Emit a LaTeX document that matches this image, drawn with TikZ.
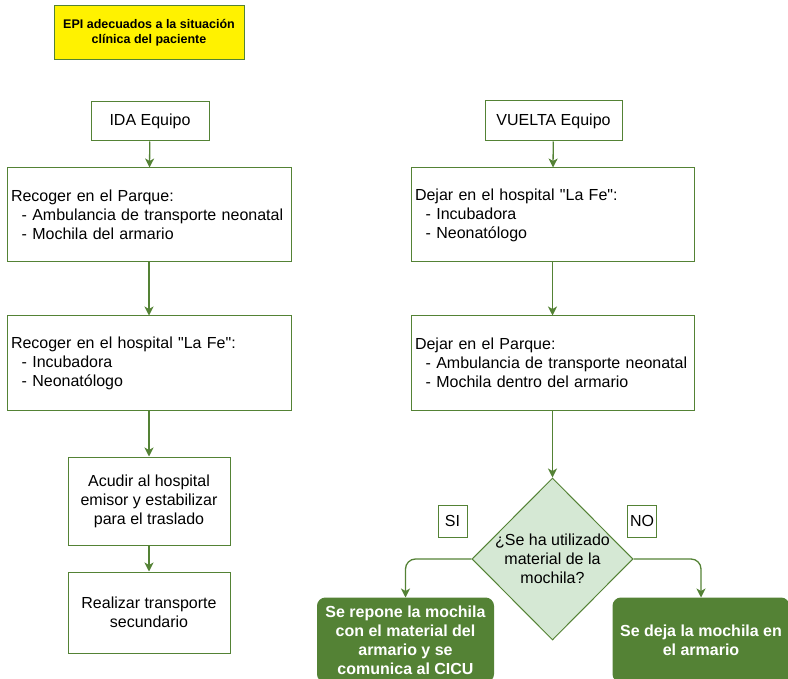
\documentclass[tikz,border=0pt]{standalone}
\usepackage{fontspec}
\setmainfont{Liberation Sans}[Ligatures=TeXOff]
\usetikzlibrary{shapes.geometric,arrows.meta}
\definecolor{leaf}{RGB}{84,130,53}
\definecolor{mint}{RGB}{213,232,212}
\begin{document}
\begin{tikzpicture}[x=1pt,y=-1pt,
  every node/.style={font=\fontsize{16}{19}\selectfont, text=black},
  box/.style={draw=leaf, line width=1pt, fill=white, rectangle, inner sep=4pt},
  listbox/.style={box, align=left, minimum width=284, minimum height=94, text width=276},
  stepbox/.style={box, align=center, minimum width=162},
  tagbox/.style={box, inner sep=2pt, minimum width=29, minimum height=32},
  endbox/.style={draw=leaf, fill=leaf, line width=1pt, rounded corners=8pt,
    minimum width=176, minimum height=84, align=center,
    font=\bfseries\fontsize{16}{19}\selectfont, text=white},
  flow/.style={draw=leaf, line width=1.3pt,
    -{Stealth[length=9pt,width=9pt,inset=2.5pt]}},
]
\useasboundingbox (0,0) rectangle (788,679);
\clip (0,0) rectangle (788,679);

% header note
\node[draw=leaf, line width=1pt, fill=yellow, minimum width=190, minimum height=54,
  align=center, font=\bfseries\fontsize{12.5}{15}\selectfont] (epi) at (149,33)
  {EPI adecuados a la situación\\clínica del paciente};

% outbound column
\node[box, minimum width=118, minimum height=39] (ida) at (150,121.5) {IDA Equipo};
\node[listbox] (parque1) at (149,215)
  {Recoger en el Parque:\\\ \ - Ambulancia de transporte neonatal\\\ \ - Mochila del armario};
\node[listbox] (fe1) at (149,363)
  {Recoger en el hospital "La Fe":\\\ \ - Incubadora\\\ \ - Neonatólogo};
\node[stepbox, minimum height=88] (acudir) at (149,501)
  {Acudir al hospital\\emisor y estabilizar\\para el traslado};
\node[stepbox, minimum height=81] (realizar) at (149,612.5)
  {Realizar transporte\\secundario};

% return column
\node[box, minimum width=137, minimum height=40] (vuelta) at (553.5,121) {VUELTA Equipo};
\node[listbox, minimum width=283, text width=275] (fe2) at (552.5,215)
  {Dejar en el hospital "La Fe":\\\ \ - Incubadora\\\ \ - Neonatólogo};
\node[listbox, minimum width=283, text width=275] (parque2) at (552.5,363)
  {Dejar en el Parque:\\\ \ - Ambulancia de transporte neonatal\\\ \ - Mochila dentro del armario};

% decision
\node[diamond, draw=leaf, line width=1pt, fill=mint, minimum width=161,
  minimum height=162, inner sep=0pt, aspect=1] (dec) at (552.5,559) {};
\node[align=center] (q) at (dec.center) {¿Se ha utilizado\\material de la\\mochila?};
\node[tagbox] (si) at (452.5,521) {SI};
\node[tagbox] (no) at (642,521) {NO};

\node[endbox] (repone) at (405.5,640)
  {Se repone la mochila\\con el material del\\armario y se\\comunica al CICU};
\node[endbox] (deja) at (701,640)
  {Se deja la mochila en\\el armario};

% connectors
\draw[flow] (ida) -- (parque1);
\draw[flow] (parque1) -- (fe1);
\draw[flow] (fe1) -- (acudir);
\draw[flow] (acudir) -- (realizar);
\draw[flow] (vuelta) -- (fe2);
\draw[flow] (fe2) -- (parque2);
\draw[flow] (parque2) -- (dec.north);
\draw[flow, rounded corners=10pt] (dec.west) -| (repone.north);
\draw[flow, rounded corners=10pt] (dec.east) -| (deja.north);
\end{tikzpicture}
\end{document}
